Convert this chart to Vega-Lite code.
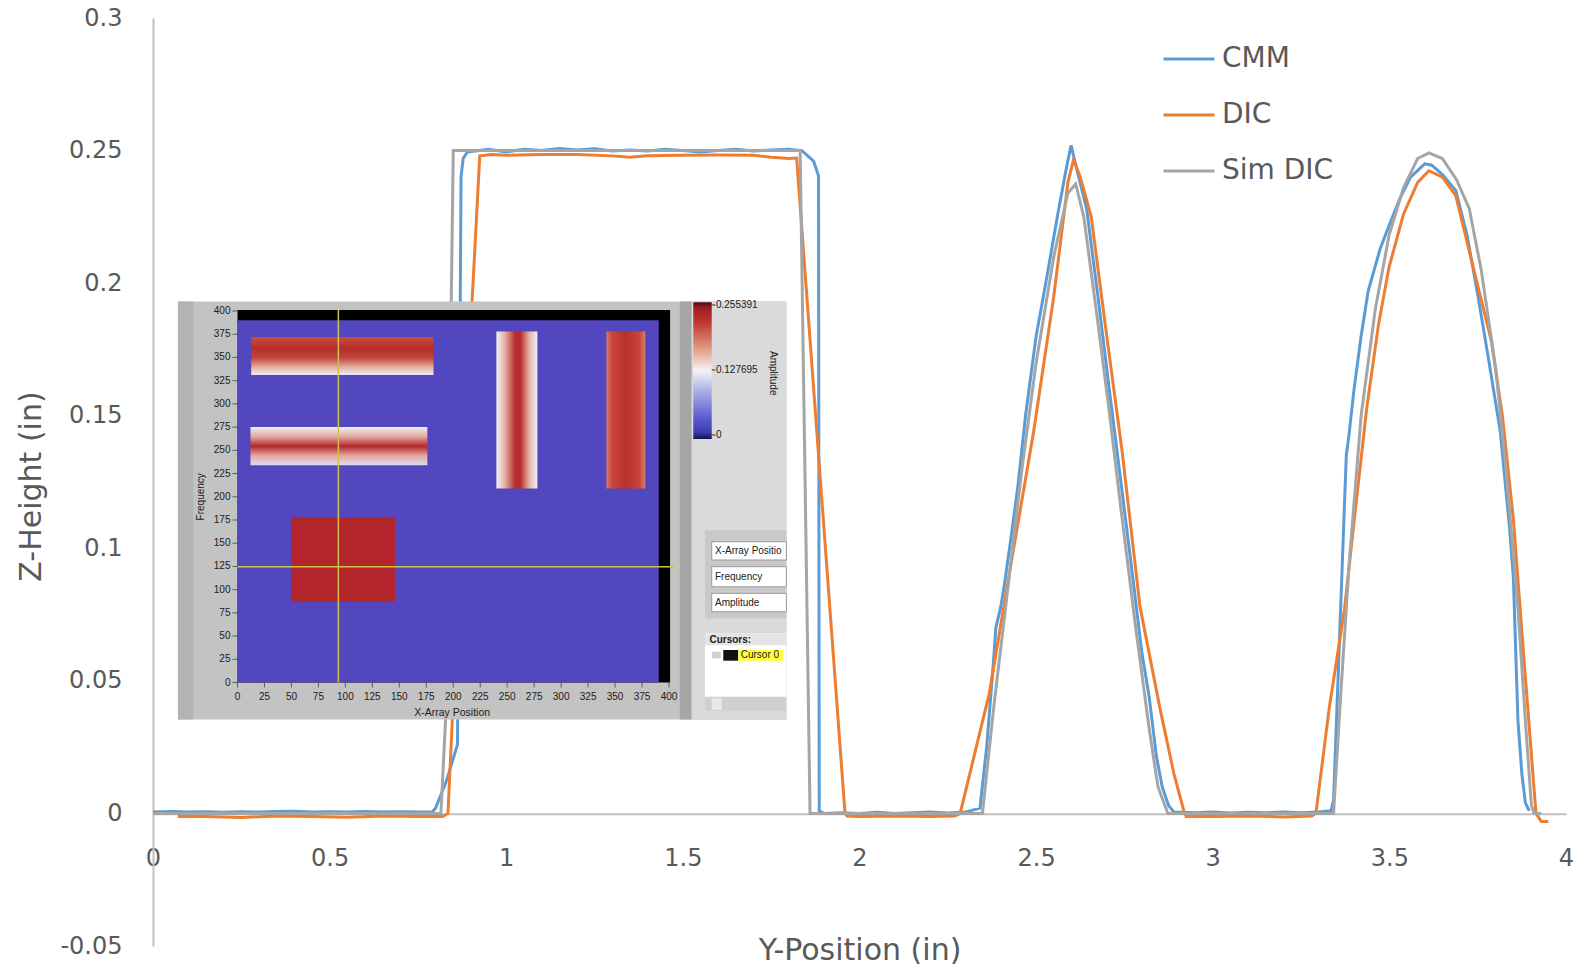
{
  "$schema": "https://vega.github.io/schema/vega-lite/v6.json",
  "autosize": {"type": "none"},
  "width": 1413,
  "height": 928,
  "padding": {"left": 153, "top": 18, "right": 23, "bottom": 28},
  "background": "white",
  "config": {"view": {"stroke": null}, "font": "DejaVu Sans"},
  "resolve": {"scale": {"x": "independent", "y": "independent"}},
  "layer": [
    {
      "data": {"values": [
        {"s":"CMM","x":0,"y":0.0005},{"s":"CMM","x":0.05,"y":0.0007},{"s":"CMM","x":0.1,"y":0.0005},{"s":"CMM","x":0.15,"y":0.0006},{"s":"CMM","x":0.2,"y":0.0004},{"s":"CMM","x":0.25,"y":0.0006},{"s":"CMM","x":0.3,"y":0.0005},{"s":"CMM","x":0.35,"y":0.0007},{"s":"CMM","x":0.4,"y":0.0008},{"s":"CMM","x":0.45,"y":0.0005},{"s":"CMM","x":0.5,"y":0.0006},{"s":"CMM","x":0.55,"y":0.0005},{"s":"CMM","x":0.6,"y":0.0007},{"s":"CMM","x":0.65,"y":0.0005},{"s":"CMM","x":0.7,"y":0.0006},{"s":"CMM","x":0.75,"y":0.0005},{"s":"CMM","x":0.79,"y":0.0005},{"s":"CMM","x":0.8,"y":0.002},{"s":"CMM","x":0.83,"y":0.012},{"s":"CMM","x":0.862,"y":0.026},{"s":"CMM","x":0.872,"y":0.24},{"s":"CMM","x":0.878,"y":0.247},{"s":"CMM","x":0.89,"y":0.2495},{"s":"CMM","x":0.95,"y":0.2505},{"s":"CMM","x":1.0,"y":0.2495},{"s":"CMM","x":1.05,"y":0.2505},{"s":"CMM","x":1.1,"y":0.25},{"s":"CMM","x":1.15,"y":0.2508},{"s":"CMM","x":1.2,"y":0.2502},{"s":"CMM","x":1.25,"y":0.2507},{"s":"CMM","x":1.3,"y":0.2498},{"s":"CMM","x":1.35,"y":0.2502},{"s":"CMM","x":1.4,"y":0.2498},{"s":"CMM","x":1.45,"y":0.2505},{"s":"CMM","x":1.5,"y":0.25},{"s":"CMM","x":1.55,"y":0.2495},{"s":"CMM","x":1.6,"y":0.25},{"s":"CMM","x":1.65,"y":0.2505},{"s":"CMM","x":1.7,"y":0.2498},{"s":"CMM","x":1.75,"y":0.2502},{"s":"CMM","x":1.8,"y":0.2505},{"s":"CMM","x":1.837,"y":0.25},{"s":"CMM","x":1.87,"y":0.246},{"s":"CMM","x":1.884,"y":0.2405},{"s":"CMM","x":1.886,"y":0.001},{"s":"CMM","x":1.9,"y":0},{"s":"CMM","x":1.95,"y":0.0003},{"s":"CMM","x":2.0,"y":0},{"s":"CMM","x":2.05,"y":0.0004},{"s":"CMM","x":2.1,"y":0},{"s":"CMM","x":2.15,"y":0.0003},{"s":"CMM","x":2.2,"y":0.0005},{"s":"CMM","x":2.25,"y":0.0002},{"s":"CMM","x":2.3,"y":0.0005},{"s":"CMM","x":2.341,"y":0.002},{"s":"CMM","x":2.36,"y":0.025},{"s":"CMM","x":2.378,"y":0.055},{"s":"CMM","x":2.386,"y":0.07},{"s":"CMM","x":2.4,"y":0.078},{"s":"CMM","x":2.411,"y":0.087},{"s":"CMM","x":2.43,"y":0.105},{"s":"CMM","x":2.448,"y":0.123},{"s":"CMM","x":2.47,"y":0.15},{"s":"CMM","x":2.5,"y":0.18},{"s":"CMM","x":2.53,"y":0.202},{"s":"CMM","x":2.56,"y":0.225},{"s":"CMM","x":2.585,"y":0.243},{"s":"CMM","x":2.599,"y":0.252},{"s":"CMM","x":2.615,"y":0.243},{"s":"CMM","x":2.643,"y":0.228},{"s":"CMM","x":2.675,"y":0.195},{"s":"CMM","x":2.706,"y":0.161},{"s":"CMM","x":2.74,"y":0.125},{"s":"CMM","x":2.769,"y":0.094},{"s":"CMM","x":2.8,"y":0.06},{"s":"CMM","x":2.82,"y":0.044},{"s":"CMM","x":2.84,"y":0.022},{"s":"CMM","x":2.857,"y":0.01},{"s":"CMM","x":2.875,"y":0.003},{"s":"CMM","x":2.89,"y":0.0005},{"s":"CMM","x":2.95,"y":0.0003},{"s":"CMM","x":3.0,"y":0.0005},{"s":"CMM","x":3.05,"y":0.0002},{"s":"CMM","x":3.1,"y":0.0004},{"s":"CMM","x":3.15,"y":0.0003},{"s":"CMM","x":3.2,"y":0.0005},{"s":"CMM","x":3.25,"y":0.0003},{"s":"CMM","x":3.3,"y":0.0005},{"s":"CMM","x":3.335,"y":0.001},{"s":"CMM","x":3.342,"y":0.005},{"s":"CMM","x":3.36,"y":0.07},{"s":"CMM","x":3.378,"y":0.135},{"s":"CMM","x":3.385,"y":0.142},{"s":"CMM","x":3.4,"y":0.16},{"s":"CMM","x":3.42,"y":0.18},{"s":"CMM","x":3.44,"y":0.197},{"s":"CMM","x":3.474,"y":0.213},{"s":"CMM","x":3.5,"y":0.222},{"s":"CMM","x":3.53,"y":0.232},{"s":"CMM","x":3.56,"y":0.24},{"s":"CMM","x":3.6,"y":0.245},{"s":"CMM","x":3.62,"y":0.2445},{"s":"CMM","x":3.65,"y":0.241},{"s":"CMM","x":3.688,"y":0.235},{"s":"CMM","x":3.72,"y":0.218},{"s":"CMM","x":3.751,"y":0.195},{"s":"CMM","x":3.78,"y":0.172},{"s":"CMM","x":3.814,"y":0.144},{"s":"CMM","x":3.84,"y":0.108},{"s":"CMM","x":3.851,"y":0.089},{"s":"CMM","x":3.858,"y":0.06},{"s":"CMM","x":3.864,"y":0.035},{"s":"CMM","x":3.875,"y":0.015},{"s":"CMM","x":3.885,"y":0.004},{"s":"CMM","x":3.896,"y":0.001},
        {"s":"DIC","x":0.07,"y":-0.0012},{"s":"DIC","x":0.15,"y":-0.0012},{"s":"DIC","x":0.25,"y":-0.0015},{"s":"DIC","x":0.35,"y":-0.001},{"s":"DIC","x":0.45,"y":-0.0012},{"s":"DIC","x":0.55,"y":-0.0014},{"s":"DIC","x":0.65,"y":-0.001},{"s":"DIC","x":0.75,"y":-0.0012},{"s":"DIC","x":0.82,"y":-0.0012},{"s":"DIC","x":0.835,"y":0},{"s":"DIC","x":0.87,"y":0.1},{"s":"DIC","x":0.9,"y":0.185},{"s":"DIC","x":0.925,"y":0.248},{"s":"DIC","x":0.96,"y":0.2485},{"s":"DIC","x":1.0,"y":0.2482},{"s":"DIC","x":1.1,"y":0.2485},{"s":"DIC","x":1.2,"y":0.2485},{"s":"DIC","x":1.3,"y":0.248},{"s":"DIC","x":1.35,"y":0.2475},{"s":"DIC","x":1.4,"y":0.248},{"s":"DIC","x":1.5,"y":0.2482},{"s":"DIC","x":1.6,"y":0.2483},{"s":"DIC","x":1.7,"y":0.2482},{"s":"DIC","x":1.75,"y":0.2475},{"s":"DIC","x":1.8,"y":0.247},{"s":"DIC","x":1.822,"y":0.2472},{"s":"DIC","x":1.959,"y":0},{"s":"DIC","x":1.965,"y":-0.001},{"s":"DIC","x":2.0,"y":-0.0012},{"s":"DIC","x":2.1,"y":-0.001},{"s":"DIC","x":2.2,"y":-0.0012},{"s":"DIC","x":2.27,"y":-0.001},{"s":"DIC","x":2.285,"y":0},{"s":"DIC","x":2.367,"y":0.045},{"s":"DIC","x":2.43,"y":0.095},{"s":"DIC","x":2.493,"y":0.144},{"s":"DIC","x":2.55,"y":0.195},{"s":"DIC","x":2.59,"y":0.238},{"s":"DIC","x":2.606,"y":0.2466},{"s":"DIC","x":2.625,"y":0.24},{"s":"DIC","x":2.656,"y":0.225},{"s":"DIC","x":2.7,"y":0.18},{"s":"DIC","x":2.744,"y":0.136},{"s":"DIC","x":2.794,"y":0.078},{"s":"DIC","x":2.85,"y":0.04},{"s":"DIC","x":2.89,"y":0.015},{"s":"DIC","x":2.92,"y":0},{"s":"DIC","x":2.925,"y":-0.0012},{"s":"DIC","x":3.0,"y":-0.0012},{"s":"DIC","x":3.1,"y":-0.001},{"s":"DIC","x":3.2,"y":-0.0013},{"s":"DIC","x":3.28,"y":-0.001},{"s":"DIC","x":3.292,"y":0},{"s":"DIC","x":3.33,"y":0.04},{"s":"DIC","x":3.373,"y":0.077},{"s":"DIC","x":3.4,"y":0.11},{"s":"DIC","x":3.436,"y":0.153},{"s":"DIC","x":3.47,"y":0.185},{"s":"DIC","x":3.499,"y":0.206},{"s":"DIC","x":3.54,"y":0.226},{"s":"DIC","x":3.58,"y":0.238},{"s":"DIC","x":3.612,"y":0.2424},{"s":"DIC","x":3.65,"y":0.24},{"s":"DIC","x":3.688,"y":0.233},{"s":"DIC","x":3.73,"y":0.21},{"s":"DIC","x":3.789,"y":0.178},{"s":"DIC","x":3.82,"y":0.15},{"s":"DIC","x":3.851,"y":0.111},{"s":"DIC","x":3.88,"y":0.06},{"s":"DIC","x":3.915,"y":0},{"s":"DIC","x":3.93,"y":-0.003},{"s":"DIC","x":3.95,"y":-0.003},
        {"s":"Sim DIC","x":0,"y":0},{"s":"Sim DIC","x":0.2,"y":0},{"s":"Sim DIC","x":0.4,"y":0},{"s":"Sim DIC","x":0.6,"y":0},{"s":"Sim DIC","x":0.8,"y":0},{"s":"Sim DIC","x":0.815,"y":0},{"s":"Sim DIC","x":0.83,"y":0.04},{"s":"Sim DIC","x":0.845,"y":0.2},{"s":"Sim DIC","x":0.85,"y":0.25},{"s":"Sim DIC","x":1.0,"y":0.25},{"s":"Sim DIC","x":1.2,"y":0.25},{"s":"Sim DIC","x":1.4,"y":0.25},{"s":"Sim DIC","x":1.6,"y":0.25},{"s":"Sim DIC","x":1.832,"y":0.25},{"s":"Sim DIC","x":1.86,"y":0},{"s":"Sim DIC","x":2.0,"y":0},{"s":"Sim DIC","x":2.2,"y":0},{"s":"Sim DIC","x":2.348,"y":0},{"s":"Sim DIC","x":2.38,"y":0.04},{"s":"Sim DIC","x":2.42,"y":0.085},{"s":"Sim DIC","x":2.46,"y":0.13},{"s":"Sim DIC","x":2.5,"y":0.17},{"s":"Sim DIC","x":2.55,"y":0.21},{"s":"Sim DIC","x":2.59,"y":0.234},{"s":"Sim DIC","x":2.612,"y":0.2374},{"s":"Sim DIC","x":2.635,"y":0.225},{"s":"Sim DIC","x":2.67,"y":0.19},{"s":"Sim DIC","x":2.706,"y":0.1527},{"s":"Sim DIC","x":2.74,"y":0.115},{"s":"Sim DIC","x":2.78,"y":0.072},{"s":"Sim DIC","x":2.82,"y":0.032},{"s":"Sim DIC","x":2.845,"y":0.01},{"s":"Sim DIC","x":2.873,"y":0},{"s":"Sim DIC","x":3.0,"y":0},{"s":"Sim DIC","x":3.2,"y":0},{"s":"Sim DIC","x":3.342,"y":0},{"s":"Sim DIC","x":3.36,"y":0.04},{"s":"Sim DIC","x":3.386,"y":0.094},{"s":"Sim DIC","x":3.42,"y":0.15},{"s":"Sim DIC","x":3.46,"y":0.19},{"s":"Sim DIC","x":3.499,"y":0.218},{"s":"Sim DIC","x":3.54,"y":0.236},{"s":"Sim DIC","x":3.58,"y":0.247},{"s":"Sim DIC","x":3.612,"y":0.2491},{"s":"Sim DIC","x":3.65,"y":0.247},{"s":"Sim DIC","x":3.69,"y":0.239},{"s":"Sim DIC","x":3.726,"y":0.2282},{"s":"Sim DIC","x":3.76,"y":0.205},{"s":"Sim DIC","x":3.801,"y":0.1678},{"s":"Sim DIC","x":3.83,"y":0.13},{"s":"Sim DIC","x":3.864,"y":0.0773},{"s":"Sim DIC","x":3.885,"y":0.035},{"s":"Sim DIC","x":3.902,"y":0.003},{"s":"Sim DIC","x":3.91,"y":0},{"s":"Sim DIC","x":3.93,"y":0}
      ]},
      "mark": {"type": "line", "strokeWidth": 3},
      "encoding": {
        "x": {"field": "x", "type": "quantitative",
          "scale": {"domain": [0, 4], "nice": false, "zero": false},
          "axis": {"values": [0, 0.5, 1, 1.5, 2, 2.5, 3, 3.5, 4], "labelExpr": "'' + datum.value", "offset": -132.2,
            "grid": false, "ticks": false, "domainColor": "#BFBFBF", "domainWidth": 2,
            "labelFontSize": 24, "labelColor": "#595959", "labelBaseline": "alphabetic", "labelPadding": 52, "labelFlush": false, "labelOverlap": false,
            "title": "Y-Position (in)", "titleFontSize": 30, "titleColor": "#595959", "titleFontWeight": "normal",
            "titleBaseline": "alphabetic", "titleY": 146}},
        "y": {"field": "y", "type": "quantitative",
          "scale": {"domain": [-0.05, 0.3], "nice": false, "zero": false},
          "axis": {"values": [-0.05, 0, 0.05, 0.1, 0.15, 0.2, 0.25, 0.3], "labelExpr": "'' + datum.value",
            "grid": false, "ticks": false, "domainColor": "#BFBFBF", "domainWidth": 2,
            "labelFontSize": 24, "labelColor": "#595959", "labelPadding": 31, "labelFlush": false, "labelOverlap": false,
            "title": "Z-Height (in)", "titleFontSize": 30, "titleColor": "#595959", "titleFontWeight": "normal",
            "titleBaseline": "alphabetic", "titleX": -113, "titleY": 468, "titleAngle": -90}},
        "color": {"field": "s", "type": "nominal",
          "scale": {"domain": ["CMM", "DIC", "Sim DIC"], "range": ["#5B9BD5", "#ED7D31", "#A5A5A5"]},
          "legend": {"orient": "none", "legendX": 1009, "legendY": 14, "title": null, "padding": 0,
            "symbolType": "stroke", "symbolSize": 2601, "symbolStrokeWidth": 3,
            "labelFontSize": 28, "labelColor": "#595959", "labelOffset": 6, "rowPadding": 15}}
      }
    },
    {
      "layer": [
        {
          "data": {"values": [
            {"p":"panel","u":-55.2,"u2":508.8,"v":-39.8,"v2":410.2},
            {"p":"strip","u":-55.2,"u2":-41,"v":-39.8,"v2":410.2},
            {"p":"divider","u":410,"u2":421,"v":-39.8,"v2":410.2},
            {"p":"right","u":421,"u2":508.8,"v":-39.8,"v2":410.2},
            {"p":"frame","u":0,"u2":401,"v":0,"v2":401},
            {"p":"field","u":0,"u2":390.5,"v":0,"v2":390},
            {"p":"square","u":50,"u2":146,"v":87,"v2":178},
            {"p":"ctrl","u":433.4,"u2":508.8,"v":69,"v2":164},
            {"p":"list","u":433.4,"u2":508.8,"v":-31.4,"v2":53},
            {"p":"header","u":433.4,"u2":508.8,"v":40,"v2":53},
            {"p":"scroll","u":433.4,"u2":508.8,"v":-31.4,"v2":-15.3},
            {"p":"button","u":439.6,"u2":448.9,"v":-29.5,"v2":-17},
            {"p":"minus","u":440,"u2":448,"v":26.1,"v2":33.2},
            {"p":"icon","u":450.3,"u2":464.2,"v":23.5,"v2":35},
            {"p":"highlight","u":464.2,"u2":506,"v":23.5,"v2":35}
          ]},
          "mark": {"type": "rect"},
          "encoding": {
            "x": {"field": "u", "type": "quantitative", "scale": {"domain": [-78.33, 1231.5], "nice": false, "zero": false}, "axis": null},
            "x2": {"field": "u2"},
            "y": {"field": "v", "type": "quantitative", "scale": {"domain": [-283.7, 715.5], "nice": false, "zero": false}, "axis": null},
            "y2": {"field": "v2"},
            "fill": {"field": "p", "type": "nominal", "legend": null,
              "scale": {"domain": ["panel","strip","divider","right","frame","field","square","ctrl","list","header","scroll","button","minus","icon","highlight"],
                        "range": ["#C3C3C3","#B3B3B3","#A6A6A6","#DADADA","#000000","#5347BF","#B2252B","#C9C9C9","#FFFFFF","#E4E4E4","#CFCFCF","#E8E8E8","#D0D0D0","#111111","#FFFF40"]}}
          }
        },
        {
          "data": {"values": [
            {"u":439.6,"u2":508.8,"v":131.9,"v2":151.6},
            {"u":439.6,"u2":508.8,"v":103.1,"v2":124.7},
            {"u":439.6,"u2":508.8,"v":76.2,"v2":96}
          ]},
          "mark": {"type": "rect", "fill": "#FFFFFF", "stroke": "#9A9A9A", "strokeWidth": 1},
          "encoding": {
            "x": {"field": "u", "type": "quantitative", "scale": {"domain": [-78.33, 1231.5], "nice": false, "zero": false}, "axis": null},
            "x2": {"field": "u2"},
            "y": {"field": "v", "type": "quantitative", "scale": {"domain": [-283.7, 715.5], "nice": false, "zero": false}, "axis": null},
            "y2": {"field": "v2"}
          }
        },
        {
          "data": {"values": [{"u":12.7,"u2":181.7,"v":331,"v2":372}]},
          "mark": {"type": "rect", "fill": {"gradient": "linear", "x1": 0, "y1": 0, "x2": 0, "y2": 1, "stops": [
            {"offset": 0, "color": "#C94E3E"}, {"offset": 0.3, "color": "#B52D2A"}, {"offset": 0.55, "color": "#C2483C"}, {"offset": 0.8, "color": "#E6B0A6"}, {"offset": 1, "color": "#EEEEF6"}]}},
          "encoding": {
            "x": {"field": "u", "type": "quantitative", "scale": {"domain": [-78.33, 1231.5], "nice": false, "zero": false}, "axis": null},
            "x2": {"field": "u2"},
            "y": {"field": "v", "type": "quantitative", "scale": {"domain": [-283.7, 715.5], "nice": false, "zero": false}, "axis": null},
            "y2": {"field": "v2"}
          }
        },
        {
          "data": {"values": [{"u":12,"u2":176,"v":234,"v2":275}]},
          "mark": {"type": "rect", "fill": {"gradient": "linear", "x1": 0, "y1": 0, "x2": 0, "y2": 1, "stops": [
            {"offset": 0, "color": "#EEEEF4"}, {"offset": 0.25, "color": "#E4A89E"}, {"offset": 0.5, "color": "#B3262A"}, {"offset": 0.75, "color": "#E4A89E"}, {"offset": 1, "color": "#DCDCF0"}]}},
          "encoding": {
            "x": {"field": "u", "type": "quantitative", "scale": {"domain": [-78.33, 1231.5], "nice": false, "zero": false}, "axis": null},
            "x2": {"field": "u2"},
            "y": {"field": "v", "type": "quantitative", "scale": {"domain": [-283.7, 715.5], "nice": false, "zero": false}, "axis": null},
            "y2": {"field": "v2"}
          }
        },
        {
          "data": {"values": [{"u":240,"u2":278,"v":209,"v2":378}]},
          "mark": {"type": "rect", "fill": {"gradient": "linear", "x1": 0, "y1": 0, "x2": 1, "y2": 0, "stops": [
            {"offset": 0, "color": "#F0F0F6"}, {"offset": 0.2, "color": "#E6B4AA"}, {"offset": 0.45, "color": "#B83030"}, {"offset": 0.58, "color": "#B82A2A"}, {"offset": 0.8, "color": "#E6B4AA"}, {"offset": 1, "color": "#F0F0F6"}]}},
          "encoding": {
            "x": {"field": "u", "type": "quantitative", "scale": {"domain": [-78.33, 1231.5], "nice": false, "zero": false}, "axis": null},
            "x2": {"field": "u2"},
            "y": {"field": "v", "type": "quantitative", "scale": {"domain": [-283.7, 715.5], "nice": false, "zero": false}, "axis": null},
            "y2": {"field": "v2"}
          }
        },
        {
          "data": {"values": [{"u":342,"u2":378,"v":209,"v2":378}]},
          "mark": {"type": "rect", "fill": {"gradient": "linear", "x1": 0, "y1": 0, "x2": 1, "y2": 0, "stops": [
            {"offset": 0, "color": "#D87A66"}, {"offset": 0.15, "color": "#C8463C"}, {"offset": 0.5, "color": "#B8302C"}, {"offset": 0.85, "color": "#C8463C"}, {"offset": 1, "color": "#D8806C"}]}},
          "encoding": {
            "x": {"field": "u", "type": "quantitative", "scale": {"domain": [-78.33, 1231.5], "nice": false, "zero": false}, "axis": null},
            "x2": {"field": "u2"},
            "y": {"field": "v", "type": "quantitative", "scale": {"domain": [-283.7, 715.5], "nice": false, "zero": false}, "axis": null},
            "y2": {"field": "v2"}
          }
        },
        {
          "data": {"values": [{"u":422.5,"u2":439.6,"v":262.2,"v2":409.4}]},
          "mark": {"type": "rect", "fill": {"gradient": "linear", "x1": 0, "y1": 0, "x2": 0, "y2": 1, "stops": [
            {"offset": 0, "color": "#4A0A10"}, {"offset": 0.04, "color": "#9E1E24"}, {"offset": 0.15, "color": "#C0392E"}, {"offset": 0.35, "color": "#E4A08C"}, {"offset": 0.5, "color": "#F4F4F4"}, {"offset": 0.65, "color": "#A8B0E6"}, {"offset": 0.85, "color": "#5A5ACC"}, {"offset": 0.95, "color": "#3C3CB0"}, {"offset": 1, "color": "#141450"}]}},
          "encoding": {
            "x": {"field": "u", "type": "quantitative", "scale": {"domain": [-78.33, 1231.5], "nice": false, "zero": false}, "axis": null},
            "x2": {"field": "u2"},
            "y": {"field": "v", "type": "quantitative", "scale": {"domain": [-283.7, 715.5], "nice": false, "zero": false}, "axis": null},
            "y2": {"field": "v2"}
          }
        },
        {
          "data": {"values": [
            {"u":93.5,"u2":93.5,"v":0,"v2":401},
            {"u":0,"u2":405,"v":124.7,"v2":124.7}
          ]},
          "mark": {"type": "rule", "color": "#CDC24A", "strokeWidth": 1.5},
          "encoding": {
            "x": {"field": "u", "type": "quantitative", "scale": {"domain": [-78.33, 1231.5], "nice": false, "zero": false}, "axis": null},
            "x2": {"field": "u2"},
            "y": {"field": "v", "type": "quantitative", "scale": {"domain": [-283.7, 715.5], "nice": false, "zero": false}, "axis": null},
            "y2": {"field": "v2"}
          }
        },
        {
          "data": {"values": [
            {"u":439.6,"u2":443,"v":406.5,"v2":406.5},
            {"u":439.6,"u2":443,"v":336.5,"v2":336.5},
            {"u":439.6,"u2":443,"v":266.5,"v2":266.5}
          ]},
          "mark": {"type": "rule", "color": "#333333", "strokeWidth": 1},
          "encoding": {
            "x": {"field": "u", "type": "quantitative", "scale": {"domain": [-78.33, 1231.5], "nice": false, "zero": false}, "axis": null},
            "x2": {"field": "u2"},
            "y": {"field": "v", "type": "quantitative", "scale": {"domain": [-283.7, 715.5], "nice": false, "zero": false}, "axis": null},
            "y2": {"field": "v2"}
          }
        },
        {
          "data": {"values": [{"n":0},{"n":25},{"n":50},{"n":75},{"n":100},{"n":125},{"n":150},{"n":175},{"n":200},{"n":225},{"n":250},{"n":275},{"n":300},{"n":325},{"n":350},{"n":375},{"n":400}]},
          "mark": {"type": "tick", "orient": "vertical", "size": 5, "thickness": 1, "color": "#333333"},
          "encoding": {
            "x": {"field": "n", "type": "quantitative", "scale": {"domain": [-78.33, 1231.5], "nice": false, "zero": false}, "axis": null},
            "y": {"datum": -2.7, "type": "quantitative", "scale": {"domain": [-283.7, 715.5], "nice": false, "zero": false}, "axis": null}
          }
        },
        {
          "data": {"values": [{"n":0},{"n":25},{"n":50},{"n":75},{"n":100},{"n":125},{"n":150},{"n":175},{"n":200},{"n":225},{"n":250},{"n":275},{"n":300},{"n":325},{"n":350},{"n":375},{"n":400}]},
          "mark": {"type": "text", "font": "Liberation Sans", "fontSize": 10, "color": "#202020", "align": "center", "baseline": "middle"},
          "encoding": {
            "x": {"field": "n", "type": "quantitative", "scale": {"domain": [-78.33, 1231.5], "nice": false, "zero": false}, "axis": null},
            "y": {"datum": -16, "type": "quantitative", "scale": {"domain": [-283.7, 715.5], "nice": false, "zero": false}, "axis": null},
            "text": {"field": "n", "type": "quantitative"}
          }
        },
        {
          "data": {"values": [{"n":0},{"n":25},{"n":50},{"n":75},{"n":100},{"n":125},{"n":150},{"n":175},{"n":200},{"n":225},{"n":250},{"n":275},{"n":300},{"n":325},{"n":350},{"n":375},{"n":400}]},
          "mark": {"type": "tick", "orient": "horizontal", "size": 5, "thickness": 1, "color": "#333333"},
          "encoding": {
            "x": {"datum": -2.4, "type": "quantitative", "scale": {"domain": [-78.33, 1231.5], "nice": false, "zero": false}, "axis": null},
            "y": {"field": "n", "type": "quantitative", "scale": {"domain": [-283.7, 715.5], "nice": false, "zero": false}, "axis": null}
          }
        },
        {
          "data": {"values": [{"n":0},{"n":25},{"n":50},{"n":75},{"n":100},{"n":125},{"n":150},{"n":175},{"n":200},{"n":225},{"n":250},{"n":275},{"n":300},{"n":325},{"n":350},{"n":375},{"n":400}]},
          "mark": {"type": "text", "font": "Liberation Sans", "fontSize": 10, "color": "#202020", "align": "right", "baseline": "middle"},
          "encoding": {
            "x": {"datum": -6.5, "type": "quantitative", "scale": {"domain": [-78.33, 1231.5], "nice": false, "zero": false}, "axis": null},
            "y": {"field": "n", "type": "quantitative", "scale": {"domain": [-283.7, 715.5], "nice": false, "zero": false}, "axis": null},
            "text": {"field": "n", "type": "quantitative"}
          }
        },
        {
          "data": {"values": [
            {"t":"0.255391","u":443.5,"v":406.5},
            {"t":"0.127695","u":443.5,"v":336.5},
            {"t":"0","u":443.5,"v":266.5},
            {"t":"X-Array Positio","u":442.6,"v":141.7},
            {"t":"Frequency","u":442.6,"v":113.9},
            {"t":"Amplitude","u":442.6,"v":86.1},
            {"t":"Cursor 0","u":466.5,"v":29.3}
          ]},
          "mark": {"type": "text", "font": "Liberation Sans", "fontSize": 10, "color": "#202020", "align": "left", "baseline": "middle"},
          "encoding": {
            "x": {"field": "u", "type": "quantitative", "scale": {"domain": [-78.33, 1231.5], "nice": false, "zero": false}, "axis": null},
            "y": {"field": "v", "type": "quantitative", "scale": {"domain": [-283.7, 715.5], "nice": false, "zero": false}, "axis": null},
            "text": {"field": "t", "type": "nominal"}
          }
        },
        {
          "data": {"values": [{"t":"Cursors:","u":437.5,"v":46.3}]},
          "mark": {"type": "text", "font": "Liberation Sans", "fontSize": 10, "fontWeight": "bold", "color": "#202020", "align": "left", "baseline": "middle"},
          "encoding": {
            "x": {"field": "u", "type": "quantitative", "scale": {"domain": [-78.33, 1231.5], "nice": false, "zero": false}, "axis": null},
            "y": {"field": "v", "type": "quantitative", "scale": {"domain": [-283.7, 715.5], "nice": false, "zero": false}, "axis": null},
            "text": {"field": "t", "type": "nominal"}
          }
        },
        {
          "data": {"values": [{"t":"X-Array Position","u":199,"v":-32.5}]},
          "mark": {"type": "text", "font": "Liberation Sans", "fontSize": 10.5, "color": "#202020", "align": "center", "baseline": "middle"},
          "encoding": {
            "x": {"field": "u", "type": "quantitative", "scale": {"domain": [-78.33, 1231.5], "nice": false, "zero": false}, "axis": null},
            "y": {"field": "v", "type": "quantitative", "scale": {"domain": [-283.7, 715.5], "nice": false, "zero": false}, "axis": null},
            "text": {"field": "t", "type": "nominal"}
          }
        },
        {
          "data": {"values": [{"t":"Frequency","u":-34,"v":200}]},
          "mark": {"type": "text", "font": "Liberation Sans", "fontSize": 10, "color": "#202020", "align": "center", "baseline": "middle", "angle": 270},
          "encoding": {
            "x": {"field": "u", "type": "quantitative", "scale": {"domain": [-78.33, 1231.5], "nice": false, "zero": false}, "axis": null},
            "y": {"field": "v", "type": "quantitative", "scale": {"domain": [-283.7, 715.5], "nice": false, "zero": false}, "axis": null},
            "text": {"field": "t", "type": "nominal"}
          }
        },
        {
          "data": {"values": [{"t":"Amplitude","u":496.7,"v":333}]},
          "mark": {"type": "text", "font": "Liberation Sans", "fontSize": 10, "color": "#202020", "align": "center", "baseline": "middle", "angle": 90},
          "encoding": {
            "x": {"field": "u", "type": "quantitative", "scale": {"domain": [-78.33, 1231.5], "nice": false, "zero": false}, "axis": null},
            "y": {"field": "v", "type": "quantitative", "scale": {"domain": [-283.7, 715.5], "nice": false, "zero": false}, "axis": null},
            "text": {"field": "t", "type": "nominal"}
          }
        }
      ]
    }
  ]
}
